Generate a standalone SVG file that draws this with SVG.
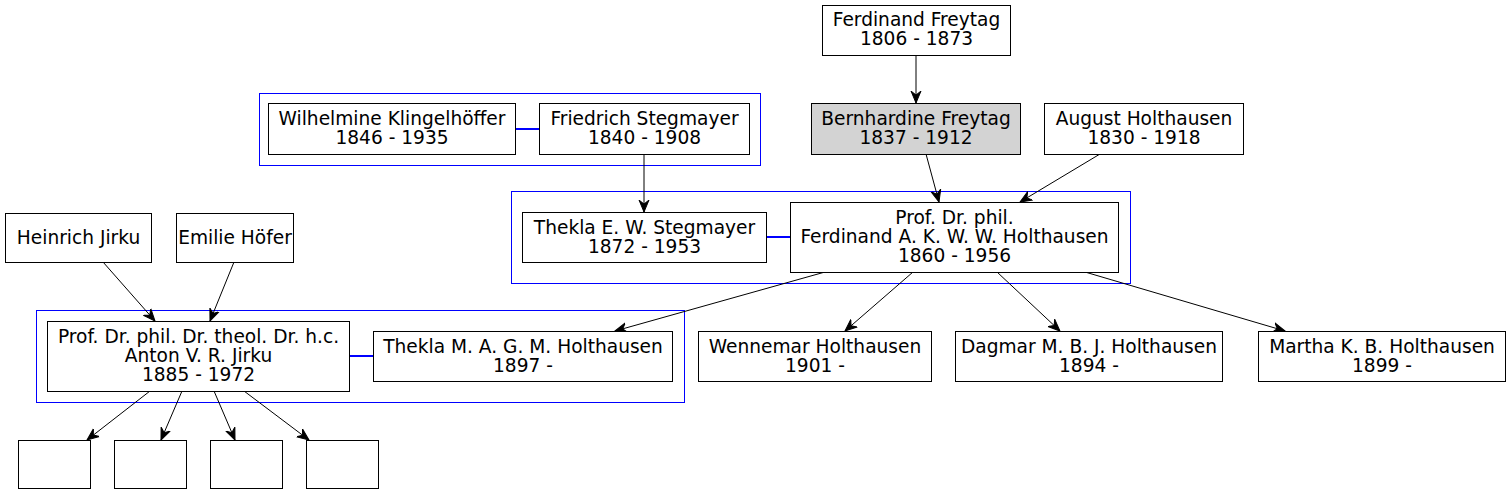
<svg xmlns="http://www.w3.org/2000/svg" width="1510" height="493" viewBox="0 0 1510 493">
<style>
.n rect{fill:#fff;stroke:#000;stroke-width:1}
.n.g rect{fill:#d3d3d3}
text{font-family:"DejaVu Sans",sans-serif;font-size:18.6px;text-anchor:middle;fill:#000}
.cl{fill:none;stroke:#0000ff;stroke-width:1}
.e{fill:none;stroke:#000;stroke-width:1;marker-end:url(#v)}
.m{stroke:#0000ff;stroke-width:2}
</style>
<defs>
<marker id="v" markerUnits="userSpaceOnUse" markerWidth="14" markerHeight="12" viewBox="0 0 14 12" refX="12" refY="6" orient="auto">
<path d="M0,1 L12,6 L0,11 L4,6 Z" fill="#000" stroke="#000" stroke-width="1"/>
</marker>
</defs>
<rect width="1510" height="493" fill="#fff"/>
<g id="clusters">
<rect class="cl" x="259.5" y="93.5" width="501" height="72"/>
<rect class="cl" x="511.5" y="191.5" width="619" height="92"/>
<rect class="cl" x="36.5" y="310.5" width="648" height="92"/>
</g>
<g id="connectors">
<line class="m" x1="515" y1="129" x2="539" y2="129"/>
<line class="m" x1="766" y1="237" x2="790" y2="237"/>
<line class="m" x1="349" y1="356" x2="373" y2="356"/>
<path class="e" d="M916,55 L916,103"/>
<path class="e" d="M644,154 L644,212"/>
<path class="e" d="M926,154 L939,202"/>
<path class="e" d="M1100,154 L1020,202"/>
<path class="e" d="M103,262 L155,321"/>
<path class="e" d="M234,262 L210,321"/>
<path class="e" d="M825,272 L615,331"/>
<path class="e" d="M913,272 L845,331"/>
<path class="e" d="M997,272 L1060,331"/>
<path class="e" d="M1085,272 L1285,331"/>
<path class="e" d="M150,391 L87,440"/>
<path class="e" d="M182,391 L161,440"/>
<path class="e" d="M214,391 L235,440"/>
<path class="e" d="M244,391 L309,440"/>
</g>
<g id="ferdinand_freytag" class="n"><rect x="822.5" y="5.5" width="188" height="50"/><text x="916.5" y="26">Ferdinand Freytag<tspan x="916.5" dy="19">1806 - 1873</tspan></text></g>
<g id="wilhelmine" class="n"><rect x="268.5" y="103.5" width="247" height="51"/><text x="392" y="125">Wilhelmine Klingelhöffer<tspan x="392" dy="19">1846 - 1935</tspan></text></g>
<g id="friedrich" class="n"><rect x="539.5" y="103.5" width="210" height="51"/><text x="644.5" y="125">Friedrich Stegmayer<tspan x="644.5" dy="19">1840 - 1908</tspan></text></g>
<g id="bernhardine" class="n g"><rect x="811.5" y="103.5" width="209" height="51"/><text x="916" y="125">Bernhardine Freytag<tspan x="916" dy="19">1837 - 1912</tspan></text></g>
<g id="august" class="n"><rect x="1044.5" y="103.5" width="199" height="51"/><text x="1144" y="125">August Holthausen<tspan x="1144" dy="19">1830 - 1918</tspan></text></g>
<g id="thekla_e" class="n"><rect x="522.5" y="212.5" width="244" height="50"/><text x="644.5" y="233.5">Thekla E. W. Stegmayer<tspan x="644.5" dy="19">1872 - 1953</tspan></text></g>
<g id="prof_ferdinand" class="n"><rect x="790.5" y="202.5" width="328" height="70"/><text x="954.5" y="223.5">Prof. Dr. phil.<tspan x="954.5" dy="19">Ferdinand A. K. W. W. Holthausen</tspan><tspan x="954.5" dy="19">1860 - 1956</tspan></text></g>
<g id="heinrich" class="n"><rect x="5.5" y="213.5" width="146" height="49"/><text x="78.5" y="243.5">Heinrich Jirku</text></g>
<g id="emilie" class="n"><rect x="176.5" y="213.5" width="117" height="49"/><text x="235" y="243.5">Emilie Höfer</text></g>
<g id="anton" class="n"><rect x="47.5" y="321.5" width="302" height="70"/><text x="198.5" y="342.5">Prof. Dr. phil. Dr. theol. Dr. h.c.<tspan x="198.5" dy="19">Anton V. R. Jirku</tspan><tspan x="198.5" dy="19">1885 - 1972</tspan></text></g>
<g id="thekla_m" class="n"><rect x="373.5" y="331.5" width="299" height="50"/><text x="523" y="352.5">Thekla M. A. G. M. Holthausen<tspan x="523" dy="19">1897 -</tspan></text></g>
<g id="wennemar" class="n"><rect x="698.5" y="331.5" width="233" height="50"/><text x="815" y="352.5">Wennemar Holthausen<tspan x="815" dy="19">1901 -</tspan></text></g>
<g id="dagmar" class="n"><rect x="955.5" y="331.5" width="267" height="50"/><text x="1089" y="352.5">Dagmar M. B. J. Holthausen<tspan x="1089" dy="19">1894 -</tspan></text></g>
<g id="martha" class="n"><rect x="1258.5" y="331.5" width="247" height="50"/><text x="1382" y="352.5">Martha K. B. Holthausen<tspan x="1382" dy="19">1899 -</tspan></text></g>
<g id="child1" class="n"><rect x="18.5" y="440.5" width="72" height="48"/></g>
<g id="child2" class="n"><rect x="114.5" y="440.5" width="72" height="48"/></g>
<g id="child3" class="n"><rect x="210.5" y="440.5" width="72" height="48"/></g>
<g id="child4" class="n"><rect x="306.5" y="440.5" width="72" height="48"/></g>
</svg>
